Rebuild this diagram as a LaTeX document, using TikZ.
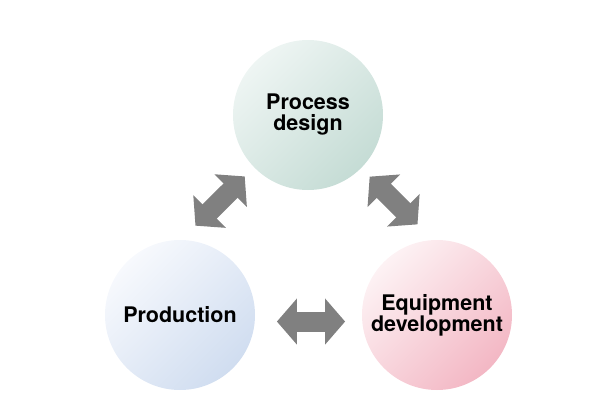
\documentclass[tikz,border=0pt]{standalone}
\usepackage{fontspec}
\setmainfont{TeX Gyre Heros}
\usepackage{tikz}
\usetikzlibrary{arrows.meta}
\definecolor{arrgray}{rgb}{0.5, 0.5, 0.5}
\definecolor{mgreenl}{HTML}{EEF5F3}
\definecolor{mgreen}{HTML}{C5DCD5}
\definecolor{mbluel}{HTML}{F7F9FD}
\definecolor{mblue}{HTML}{D0DDF0}
\definecolor{mpinkl}{HTML}{FDF2F4}
\definecolor{mpink}{HTML}{F3B7C4}
\tikzset{bubble/.style = {circle, inner sep = 0, minimum size = 150pt, align = center,
    font = \bfseries\fontsize{21.5}{21}\selectfont}}
\tikzset{twoway/.style = {arrgray, line width = 20pt,
    {Triangle[length = 20pt, width = 45pt]}-{Triangle[length = 20pt, width = 45pt]}}}

\begin{document}
\begin{tikzpicture}[x = 1pt, y = -1pt]
    \useasboundingbox (0, 0) rectangle (595, 418);

    \node [bubble, top color = mgreenl, bottom color = mgreen, shading angle = 45]
      (design) at (308, 115) {Process\\design};
    \node [bubble, top color = mbluel, bottom color = mblue, shading angle = 45]
      (prod) at (180, 315) {Production};
    \node [bubble, top color = mpinkl, bottom color = mpink, shading angle = 45]
      (equip) at (437, 315) {Equipment\\development};

    \draw [twoway, shorten < = 20pt, shorten > = 13pt] (prod.89) -- (design.224);
    \draw [twoway, shorten < = 12pt, shorten > = 22pt] (design.-45) -- (equip.93);
    \draw [twoway, shorten < = 22pt, shorten > = 17pt] (prod.-5) -- (equip.185);
  \end{tikzpicture}
\end{document}
